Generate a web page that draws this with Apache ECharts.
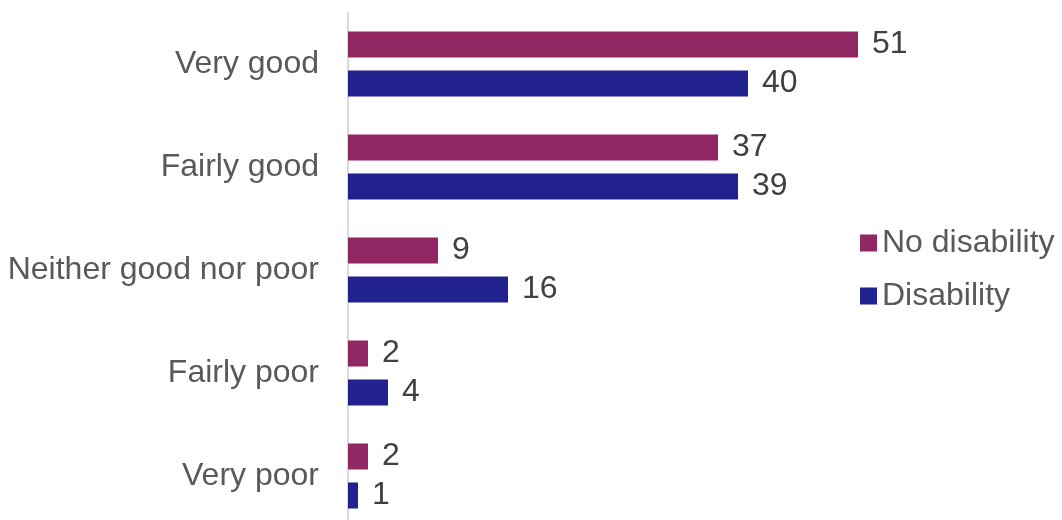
<!DOCTYPE html>
<html>
<head>
<meta charset="utf-8">
<style>
  html, body { margin: 0; padding: 0; background: #ffffff; }
  #chart { width: 1062px; height: 520px; }
</style>
<script src="https://cdn.jsdelivr.net/npm/echarts@6/dist/echarts.min.js"></script>
</head>
<body>
<div id="chart"></div>
<script>
// Self-rated health by disability status (%)
const categories = ['Very good', 'Fairly good', 'Neither good nor poor', 'Fairly poor', 'Very poor'];
const noDisability = [51, 37, 9, 2, 2];
const disability = [40, 39, 16, 4, 1];
const seriesNames = ['No disability', 'Disability'];
const seriesColors = ['#912763', '#21218f'];

const FONT = "'Liberation Sans', Arial, sans-serif";

const chart = echarts.init(document.getElementById('chart'), null, { renderer: 'canvas' });

function barSeries(name, values, color) {
  return {
    name: name,
    type: 'bar',
    data: values,
    barWidth: 26,
    barGap: '50%',
    itemStyle: { color: color },
    label: {
      show: true,
      position: 'right',
      distance: 14,
      color: '#404040',
      fontSize: 32,
      fontFamily: FONT
    },
    emphasis: { disabled: true },
    animation: false
  };
}

chart.setOption({
  backgroundColor: '#ffffff',
  animation: false,
  grid: {
    left: 348,
    top: 12.5,
    width: 600,
    height: 515,
    containLabel: false,
    outerBoundsMode: 'none'
  },
  legend: {
    orient: 'vertical',
    left: 860,
    top: 227,
    padding: 0,
    icon: 'rect',
    itemWidth: 17,
    itemHeight: 17,
    itemGap: 21,
    data: seriesNames,
    textStyle: {
      color: '#595959',
      fontSize: 32,
      lineHeight: 32,
      fontFamily: FONT
    },
    selectedMode: false
  },
  xAxis: {
    type: 'value',
    min: 0,
    max: 60,
    show: false
  },
  yAxis: {
    type: 'category',
    data: categories,
    inverse: true,
    axisTick: { show: false },
    axisLine: { show: true, lineStyle: { color: '#d9d9d9', width: 2 } },
    splitLine: { show: false },
    axisLabel: {
      color: '#595959',
      fontSize: 32,
      fontFamily: FONT,
      margin: 29
    }
  },
  series: [
    barSeries(seriesNames[0], noDisability, seriesColors[0]),
    barSeries(seriesNames[1], disability, seriesColors[1])
  ]
});
</script>
</body>
</html>
